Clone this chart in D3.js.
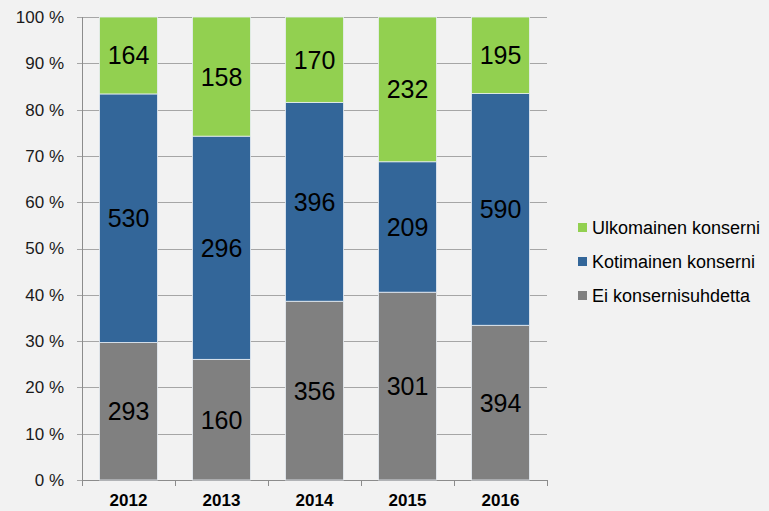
<!DOCTYPE html>
<html><head><meta charset="utf-8">
<script src="https://cdn.jsdelivr.net/npm/d3@7"></script>
<style>body{margin:0;background:#f2f2f2;}svg{display:block;}</style>
</head><body><svg id="c" width="769" height="511"></svg>
<script>
const years = ["2012","2013","2014","2015","2016"];
const seriesNames = ["Ei konsernisuhdetta","Kotimainen konserni","Ulkomainen konserni"];
const eiKonserni = [293,160,356,301,394];
const kotimainen = [530,296,396,209,590];
const ulkomainen = [164,158,170,232,195];
const colors = ["#808080","#336699","#92d050"];
const yTicks = [0,10,20,30,40,50,60,70,80,90,100];

const svg = d3.select("#c");
svg.append("rect").attr("width",769).attr("height",511).attr("fill","#f2f2f2");
const m = {l:82, t:17, r:222, b:31};
const W = 769 - m.l - m.r, H = 511 - m.t - m.b;
const g = svg.append("g").attr("transform",`translate(${m.l},${m.t})`);
const x = d3.scaleBand().domain(years).range([0,465]).paddingInner(0.376).paddingOuter(0.188);
const y = d3.scaleLinear().domain([0,100]).range([H,0]);
const font = "Liberation Sans, Arial, sans-serif";

const rows = years.map((yr,i)=>({year:yr, "Ei konsernisuhdetta":eiKonserni[i], "Kotimainen konserni":kotimainen[i], "Ulkomainen konserni":ulkomainen[i]}));
rows.forEach(r=>{const t=seriesNames.reduce((s,k)=>s+r[k],0); seriesNames.forEach(k=>r[k+"_p"]=r[k]/t*100);});
const stack = d3.stack().keys(seriesNames.map(k=>k+"_p"))(rows);

// gridlines
g.selectAll(".grid").data(yTicks).join("line")
 .attr("x1",-5).attr("x2",465).attr("y1",d=>Math.round(y(d))+0.5).attr("y2",d=>Math.round(y(d))+0.5)
 .attr("stroke","#a6a6a6").attr("stroke-width",1);
// y labels
g.selectAll(".yl").data(yTicks).join("text")
 .attr("x",-18).attr("y",d=>y(d)).attr("dy","0.35em").attr("text-anchor","end")
 .attr("font-family",font).attr("font-size",17).attr("fill","#1a1a1a")
 .text(d=>d+" %");
// y axis line
g.append("line").attr("x1",0.5).attr("x2",0.5).attr("y1",0).attr("y2",H).attr("stroke","#8c8c8c");
// x axis line & ticks
g.append("line").attr("x1",0).attr("x2",465).attr("y1",H+0.5).attr("y2",H+0.5).attr("stroke","#8c8c8c");
const bounds = d3.range(0,6).map(i=>i*465/5);
g.selectAll(".xt").data(bounds).join("line")
 .attr("x1",d=>Math.round(d)+0.5).attr("x2",d=>Math.round(d)+0.5).attr("y1",H).attr("y2",H+6).attr("stroke","#8c8c8c");

// bars
stack.forEach((s,si)=>{
  g.selectAll(".b"+si).data(s).join("rect")
   .attr("x",d=>x(d.data.year)).attr("width",x.bandwidth())
   .attr("y",d=>y(d[1])).attr("height",d=>y(d[0])-y(d[1]))
   .attr("fill",colors[si]).attr("stroke","#e8eef4").attr("stroke-width",0.8);
  g.selectAll(".l"+si).data(s).join("text")
   .attr("x",d=>x(d.data.year)+x.bandwidth()/2).attr("y",d=>y((d[0]+d[1])/2)).attr("dy","0.36em")
   .attr("text-anchor","middle").attr("font-family",font).attr("font-size",25).attr("fill","#000")
   .text(d=>d.data[seriesNames[si]]);
});

// x labels
g.selectAll(".xl").data(years).join("text")
 .attr("x",d=>x(d)+x.bandwidth()/2).attr("y",H+26).attr("text-anchor","middle")
 .attr("font-family",font).attr("font-size",17).attr("font-weight","bold").attr("fill","#000")
 .text(d=>d);

// legend
const leg = svg.append("g");
const legOrder = [2,1,0];
const legY = [228,262,296];
legOrder.forEach((si,i)=>{
  leg.append("rect").attr("x",578).attr("y",legY[i]-5).attr("width",9).attr("height",9).attr("fill",colors[si]);
  leg.append("text").attr("x",592).attr("y",legY[i]).attr("dy","0.35em")
   .attr("font-family",font).attr("font-size",18).attr("fill","#000")
   .text(seriesNames[si]);
});
</script></body></html>
